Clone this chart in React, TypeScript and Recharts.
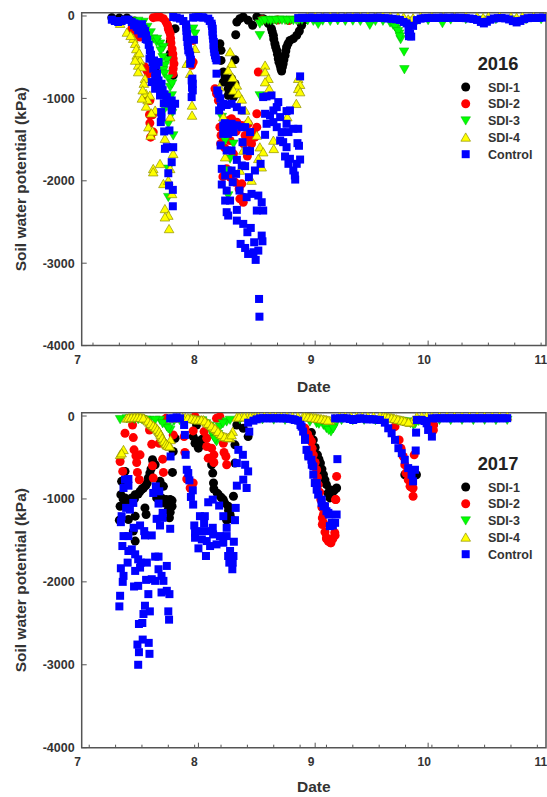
import React from "react";
import { ScatterChart, Scatter, XAxis, YAxis, ReferenceArea } from "recharts";

// x values are days after 1 July, y values are soil water potential in kPa
type Pt = [number, number];

const monthTicks = [0, 31, 62, 92, 123];
const monthLabels = ["7", "8", "9", "10", "11"];
const weekTicks2016 = [3, 10, 17, 24, 38, 45, 52, 59, 66, 73, 80, 87, 94, 101, 108, 115, 122];
const weekTicks2017 = [2, 9, 16, 23, 30, 37, 44, 51, 58, 65, 72, 79, 86, 93, 100, 107, 114, 121];
const kpaTicks = [0, -1000, -2000, -3000, -4000];

const sdi1_2016: Pt[] = [
  [8, -20], [10, -25], [12, -25], [14, -60], [24.8, -154], [23.5, -316], [23.5, -458], [24.3, -721], [19.5, -640], [18.3, -680],
  [36.7, -336], [37, -417], [37, -539], [37.6, -680], [38.1, -782], [39.4, -863], [38.9, -964], [40.7, -531], [40.9, -227], [41.2, -73],
  [42, -32], [42.9, -12], [44.2, -53], [45.4, -113], [46.5, -12], [47.3, -32], [48.2, -32], [48.9, -53], [49.6, -93], [50.4, -154],
  [50.9, -235], [51.3, -336], [51.8, -417], [52.2, -518], [52.7, -600], [53.1, -668], [53.5, -579], [54, -478], [54.4, -377], [55.3, -296],
  [56.2, -275], [57.1, -235], [57.8, -182], [58.4, -113], [59, -50], [38.1, -741], [37.6, -802], [38.5, -782], [39.8, -761], [40.7, -822],
  [38.9, -883], [39.4, -923], [40.3, -984], [50.6, -190], [51, -280], [51.5, -375], [52, -465], [52.4, -560], [52.9, -640], [53.3, -620],
  [53.7, -530], [54.2, -425], [54.8, -335],
];

const sdi2_2016: Pt[] = [
  [19, -20], [19.9, -12], [20.8, -12], [21.7, -32], [22.4, -73], [23, -154], [23.5, -215], [23.7, -328], [24.3, -518], [24.5, -579],
  [24.3, -640], [24.2, -700], [18.1, -1025], [17.7, -1004], [18, -1199], [18.8, -1199], [18.1, -1300], [19, -1409], [18.3, -1470], [16.8, -620],
  [17.3, -660], [15.5, -255], [14.6, -215], [13.3, -154], [17.7, -700], [29.6, -559], [29.2, -599], [29.6, -296], [35.4, -883], [35.8, -944],
  [36.3, -1025], [36.7, -1349], [36.9, -1551], [39, -1268], [39.8, -1247], [41.2, -1288], [39.4, -1511], [42.5, -1328], [44.2, -1308], [46.5, -1349],
  [46.5, -1187], [46.9, -680], [44.7, -1511], [45.1, -1551], [46, -1470], [43.4, -1450], [40.3, -1673], [38.5, -1855], [39.4, -1956], [40.7, -2017],
  [42.5, -2037], [42.9, -2199], [42, -2219], [42.9, -2260], [45.6, -1409], [48, -45], [52, -50], [55, -55], [22.8, -110], [23.2, -180],
  [23.6, -270], [24, -400], [24.2, -460], [37, -1450], [38, -1600], [41, -1400], [43, -1550], [44, -1700], [37.5, -1950], [41.8, -2100],
];

const sdi3_2016: Pt[] = [
  [16.4, -73], [17.4, -134], [19, -275], [19.9, -316], [20.8, -336], [21.7, -377], [22.6, -539], [22.1, -600], [21.7, -660], [23.5, -863],
  [23.9, -964], [22.1, -1126], [23, -1308], [24.3, -1450], [23, -1855], [23, -2199], [29.6, -154], [30.1, -215], [47.3, -235], [47.3, -964],
  [37.6, -1085], [37.2, -1227], [38.1, -1511], [40.3, -1551], [39.4, -1733], [38.5, -1875], [38.9, -2179], [47.3, -93], [48, -60], [49.5, -50],
  [51, -48], [52.5, -45], [54, -50], [55.5, -45], [57, -50], [58.5, -48], [60, -55], [61.5, -60], [62.8, -97], [64, -58],
  [66, -62], [68, -55], [70, -60], [72, -58], [74, -62], [76.5, -109], [78, -62], [80, -60], [81.9, -81], [82.7, -109],
  [83.6, -154], [84.3, -215], [84.7, -283], [85.6, -433], [85.7, -648], [87, -70], [89, -55], [92, -52], [95.8, -89], [98, -45],
  [102, -40], [106, -45], [110, -40], [114, -45], [118, -40], [122, -40], [15, -60], [16, -100], [18.3, -200], [20, -280],
  [21, -420], [21.5, -500], [22, -700], [23, -760], [24, -820], [22, -1000], [24, -1180], [48.7, -50], [50.2, -55], [51.7, -52],
  [53.2, -48], [54.7, -55], [56.2, -52], [57.7, -50], [83.2, -130], [84, -185], [84.5, -250],
];

const sdi4_2016: Pt[] = [
  [10.2, -93], [13.7, -275], [14.2, -336], [14.6, -478], [15.5, -539], [15, -600], [15.9, -620], [15, -680], [16.8, -761], [17.1, -944],
  [18.1, -964], [17.1, -1097], [19.5, -1146], [17.7, -1349], [18.3, -1450], [20.8, -1794], [19, -1855], [19, -1895], [24.3, -1673], [22.1, -1490],
  [23.5, -1227], [21.7, -2037], [23, -1997], [24, -2159], [22.1, -2341], [23, -2422], [22.1, -2442], [23.2, -2584], [23.5, -1855], [27.9, -579],
  [28.8, -518], [30.1, -397], [28.8, -700], [29.3, -1085], [29.3, -1207], [39.4, -437], [39.8, -579], [38.9, -660], [40.1, -749], [41.2, -842],
  [40.3, -903], [41.6, -944], [42.5, -1012], [43.4, -1146], [36.6, -863], [37.6, -1227], [44.2, -1268], [46.5, -1450], [47.3, -1592], [48.2, -1652],
  [46.9, -1733], [47.8, -1835], [45.1, -1997], [42, -1875], [42.9, -1632], [38.1, -1713], [48.7, -600], [48.7, -680], [49.6, -761], [48.7, -802],
  [49.8, -883], [50.9, -1511], [51, -1612], [54.6, -1227], [57, -1065], [57.5, -761], [58, -834], [57.5, -883], [58, -923], [60, -8],
  [62, -6], [64, -8], [66, -5], [68, -7], [70, -5], [72, -8], [74, -6], [76, -5], [78, -8], [80, -6],
  [82, -10], [84, -12], [85.5, -15], [86.7, -40], [87.2, -60], [88, -25], [90, -8], [93, -6], [96, -5], [99, -6],
  [102, -5], [105, -8], [106.6, -22], [108, -6], [111, -5], [114, -8], [115.5, -18], [117, -6], [120, -5], [123, -4],
  [12, -200], [13, -240], [14.5, -400], [15.3, -450], [16.5, -820], [17.5, -1020], [18.5, -1180], [18.8, -1400], [16, -1000], [16.2, -900],
  [14.2, -540],
];

const control2016: Pt[] = [
  [8, -45], [8.8, -61], [9.7, -73], [10.6, -61], [11.5, -45], [12.4, -45], [13.3, -73], [13.9, -113], [14.6, -134], [15, -174],
  [15.5, -134], [16.4, -154], [15.9, -215], [17.1, -235], [17.4, -288], [18.1, -417], [18, -518], [18.8, -559], [20.4, -559], [19, -640],
  [19.5, -741], [18.6, -802], [20.4, -782], [19.5, -883], [21.2, -822], [20.8, -964], [22.6, -984], [23.9, -1025], [24.8, -1065], [23.9, -1146],
  [21.1, -1166], [21.2, -1227], [21, -1288], [21.9, -1401], [23.3, -1389], [22.6, -1592], [24.3, -1592], [22.1, -1612], [23.9, -1774], [23, -1908],
  [23.2, -2057], [24.2, -2110], [24.2, -2309],
  [14, -90], [15.2, -110], [16, -100], [16.8, -180], [17, -280], [17.8, -350], [18.4, -470], [19.2, -540], [19.8, -600], [20, -700],
  [20.5, -870], [21.5, -900], [22, -950], [23, -1060], [24, -1090], [21.8, -1060],
  [24.3, -12], [25.2, -20], [26.1, -32], [27, -61], [27.7, -101], [27.9, -255], [28.1, -316], [28.3, -417], [28.8, -478], [29.8, -288],
  [28.8, -579], [29.2, -782], [29.5, -822], [29.5, -903], [29.2, -984], [27.8, -140], [27.8, -180], [28, -220], [28.2, -360], [28.6, -440],
  [29, -530], [29.3, -870], [29.4, -760],
  [29.6, -20], [31, -12], [32.3, -20], [33.6, -32], [34.5, -93], [34.8, -154], [34.8, -235], [35.1, -316], [35.1, -397], [35.4, -478],
  [35.8, -539], [35.8, -700], [36, -903], [36.3, -944], [36.5, -1146], [37.6, -1328], [37.8, -1369], [37.6, -1430], [40.3, -1328], [40.3, -1409],
  [38.5, -1389], [39.8, -1308], [41.2, -1328], [42.5, -1349], [43.4, -1349], [44.7, -1409], [37.6, -1065], [39.8, -1065], [41.2, -1106], [42.5, -1146],
  [36.9, -1571], [38.5, -1632], [39.8, -1632], [42.7, -1531], [43.8, -1632], [44.7, -1640], [41.2, -1746], [42.5, -1814], [43.4, -1822], [37.2, -1855],
  [38.1, -1936], [39.8, -1875], [41, -1916], [40.1, -2017], [37.2, -2045], [38.5, -2118], [38.1, -2240], [39.4, -2240], [41.9, -2118], [41.2, -2353],
  [38.5, -2381], [38.9, -2422], [41.2, -2483], [42.9, -2523], [44.9, -2572], [44, -2624], [42.2, -2766], [43.4, -2815], [44.2, -2888], [45.6, -2867],
  [46.9, -2847], [46.2, -2960], [47.8, -2665], [48, -2734], [45.8, -2746], [43.8, -2199], [45.1, -2159], [46.9, -2179], [47.8, -2260], [46.5, -2361],
  [48.2, -2361], [47.5, -1794], [46, -1875], [44.4, -1956], [47.1, -3434], [47.2, -3649], [34.6, -120], [34.7, -190], [34.9, -275], [35, -355],
  [35.2, -440], [35.6, -510], [32, -15], [34, -60], [30.3, -15], [38, -1300], [39, -1340], [40, -1360], [38.8, -1430], [37, -1100],
  [36.8, -1000], [38.5, -1080],
  [58, -733], [49.1, -976], [50.4, -964], [48.2, -984], [52.2, -1045], [51.8, -1106], [50.9, -1146], [48.7, -1187], [50, -1207], [55.3, -1146],
  [54.4, -1154], [52.7, -1227], [50.9, -1288], [49.1, -1308], [51.8, -1349], [54.4, -1308], [56.2, -1369], [57.5, -1369], [53.1, -1409], [54.9, -1409],
  [48.7, -1442], [52.7, -1511], [53.5, -1531], [54.4, -1592], [57.3, -1543], [57.7, -1575], [54, -1705], [55.3, -1733], [54.9, -1794], [58, -1742],
  [57.1, -1794], [56.2, -1875], [56.6, -1936], [56.7, -1985],
  [57.5, -25], [58.5, -22], [59.5, -24], [60.5, -20], [61.5, -22], [62.5, -26], [63.5, -22], [64.5, -20], [65.5, -24], [66.5, -22],
  [67.5, -20], [68.5, -24], [69.5, -22], [70.5, -20], [71.5, -24], [72.5, -22], [73.5, -20], [74.5, -24], [75.5, -22], [76.5, -26],
  [77.5, -22], [78.5, -20], [79.5, -24], [80.5, -26], [81.5, -30], [82.5, -34], [83.5, -40], [84.5, -48], [85.5, -72], [86.3, -90],
  [86.8, -170], [87.2, -215], [87.5, -250], [86.9, -245], [88, -120], [89, -50], [90, -32], [91, -26], [92, -24], [93, -22],
  [94, -24], [95, -22], [96, -20], [97, -24], [98, -22], [99, -20], [100, -24], [101, -22], [102, -26], [103, -30],
  [104, -36], [105, -48], [106, -72], [106.8, -90], [107.6, -70], [108.5, -45], [109.5, -30], [110.5, -26], [111.5, -24], [112.5, -30],
  [113.5, -42], [114.5, -62], [115.5, -78], [116.5, -60], [117.5, -38], [118.5, -26], [119.5, -22], [120.5, -24], [121.5, -22], [122.5, -20],
];

const sdi1_2017: Pt[] = [
  [10.2, -1088], [10, -1256], [11.5, -668], [10.6, -788], [10.4, -948], [11.5, -988], [12.4, -1028], [13.3, -988], [14.2, -948], [15.5, -908],
  [16.4, -868], [17.4, -808], [14.2, -1208], [12.4, -1248], [13.7, -1388], [14.2, -1508], [16.8, -1108], [17.1, -1188], [18.8, -528], [19.5, -588],
  [18.1, -688], [17.7, -748], [20.8, -788], [21.7, -848], [19.9, -988], [21.2, -988], [22.4, -1008], [23.5, -1008], [24, -1088], [23, -1128],
  [23.3, -1228], [24.1, -680], [24.3, -428], [24.8, -268], [29.6, -248], [30.1, -328], [31, -388], [34.5, -588], [34.8, -688], [35, -808],
  [35.1, -880], [36.3, -948], [37.6, -1008], [38.9, -1088], [39.4, -1188], [38.5, -1256], [40.3, -968], [40.7, -568], [40.7, -348], [41.2, -108],
  [42.9, -148], [44.2, -248], [30.5, -108], [61.5, -288], [62.6, -468], [63.4, -568], [64.2, -708], [65, -828], [65.9, -988], [66.8, -908],
  [67.7, -868], [65.9, -888], [88.9, -708], [85.8, -708], [93.4, -108], [11, -1000], [12, -1060], [13, -1030], [14, -1000], [15, -940],
  [16, -880], [17, -840], [19, -560], [22, -1050], [23, -1060], [24, -1020], [23.5, -1160], [18.4, -640], [31.5, -330], [32, -280],
  [30.8, -300], [36, -930], [37, -980], [38, -1050], [39, -1140], [39.8, -1240], [61, -200], [62, -380], [63, -520], [63.8, -640],
  [64.6, -770], [65.4, -930], [66.4, -950], [67.2, -890],
];

const sdi2_2017: Pt[] = [
  [10.2, -548], [10.9, -668], [11.5, -208], [13.5, -108], [13.7, -260], [13.9, -408], [15.5, -468], [14.4, -480], [14.6, -560], [14.8, -680],
  [15.3, -768], [18.6, -340], [18, -168], [18.8, -600], [19, -748], [21.5, -520], [21.7, -680], [20.6, -328], [22.4, -28], [24.3, -228],
  [27.4, -440], [27.2, -248], [27.9, -760], [29.6, -808], [28.8, -868], [29.6, -180], [32.5, -188], [33.2, -268], [33.6, -508], [35.1, -468],
  [35.1, -560], [37.6, -328], [37.8, -440], [38.3, -488], [38.5, -588], [35.8, -28], [36.7, -8], [33.2, -368], [34.5, -388], [30.1, -8],
  [59.3, -148], [61, -308], [61.5, -468], [62.4, -648], [62.8, -828], [63.5, -1008], [64.2, -1288], [65, -1468], [66.1, -1528], [67.3, -1440],
  [67.4, -1008], [63.9, -1308], [65, -1480], [66.2, -1528], [67.2, -1408], [67.5, -1008], [67.7, -728], [64.2, -1188], [83.2, -128], [84.3, -288],
  [85.4, -488], [86.1, -688], [87.2, -848], [88, -868], [88, -968], [88.3, -468], [93.4, -108], [93.4, -168], [60, -220], [60.5, -270],
  [61.2, -390], [62, -560], [62.6, -740], [63.2, -920], [63.8, -1100], [63.9, -1230], [64.6, -1400], [65.5, -1510], [66.7, -1480], [84.8, -390],
  [85.8, -590], [86.7, -770], [87.6, -860],
];

const sdi3_2017: Pt[] = [
  [10.2, -40], [12, -30], [14, -35], [16, -40], [18, -50], [20.8, -48], [22.6, -128], [23.5, -168], [24.5, -60], [26, -50],
  [28, -45], [30, -50], [32, -55], [34, -120], [35, -248], [35.8, -308], [36.7, -128], [38.5, -68], [39.4, -48], [42, -40],
  [45, -45], [48, -42], [51, -45], [54, -48], [57, -50], [60.6, -68], [62.4, -88], [64.2, -108], [65, -148], [66.2, -188],
  [67.2, -110], [69, -50], [72, -52], [75, -48], [78, -52], [81, -55], [84, -58], [86.4, -68], [88.1, -108], [89.5, -60],
  [92, -50], [95, -48], [98, -50], [101, -48], [104, -50], [107, -48], [110, -50], [113, -48], [12.8, -32], [15, -38],
  [17, -45], [19.5, -48], [21.5, -90], [23, -150], [33, -90], [34.5, -190], [35.4, -280], [36.2, -220], [37.5, -90], [63, -95],
  [65.6, -170], [66.8, -150], [85.2, -62], [87.3, -88], [88.6, -90],
];

const sdi4_2017: Pt[] = [
  [10.2, -468], [11.1, -408], [10.6, -448], [11.9, -28], [12.8, -22], [13.6, -20], [14.4, -18], [15.2, -18], [16, -22], [16.7, -32],
  [17.3, -48], [18, -78], [18.6, -108], [19.3, -128], [19.9, -148], [20.4, -178], [20.8, -208], [21.2, -248], [21.7, -288], [22.2, -320],
  [22.6, -348], [23.1, -360], [23.5, -368], [23.6, -288], [24.5, -30], [26, -20], [27.5, -20], [28.8, -28], [29.7, -38], [30.5, -48],
  [31.4, -50], [32.3, -48], [33.2, -78], [34.1, -108], [35, -138], [35.8, -168], [36.7, -208], [37.6, -248], [38.5, -258], [39.4, -268],
  [40.1, -188], [41.2, -16], [42.5, -14], [44, -12], [45.5, -10], [47, -8], [48.5, -6], [50, -6], [51.5, -5], [53, -6],
  [54.5, -5], [56, -6], [57.4, -6], [58.8, -8], [59.7, -12], [60.6, -16], [61.5, -22], [62.4, -28], [63.3, -34], [64.2, -40],
  [65, -48], [65.9, -56], [67, -30], [68.5, -10], [70, -6], [71.5, -5], [73, -5], [74.5, -4], [76, -5], [77.5, -4],
  [79.2, 0], [80.1, -8], [81, -16], [81.9, -22], [82.7, -28], [83.6, -38], [84.5, -48], [85.4, -58], [86.3, -68], [87.2, -80],
  [88, -50], [89, -8], [90.3, -4], [91.6, 0], [93, -4], [95, -5], [97, -4], [99, -5], [101, -4], [103, -5],
  [105, -4], [107, -5], [109, -4], [111, -5], [113, -4],
  [12.4, -25], [13.2, -21], [14, -19], [14.8, -18], [15.6, -20], [16.4, -27], [17.6, -62], [18.3, -92], [19, -118], [19.6, -138],
  [20.1, -162], [20.6, -192], [21, -228], [21.4, -268], [21.9, -305], [22.4, -335], [22.8, -355], [23.3, -364], [25.2, -22], [26.8, -20],
  [28.2, -24], [29.2, -33], [30.1, -43], [30.9, -50], [31.8, -49], [32.7, -62], [33.6, -92], [34.5, -122], [35.4, -152], [36.2, -188],
  [37.1, -228], [38, -252], [39, -262], [39.8, -230], [41.8, -15], [43.2, -13], [44.8, -11], [46.2, -9], [59.2, -10], [60.1, -14],
  [61, -19], [62, -25], [62.8, -31], [63.7, -37], [64.6, -44], [65.4, -52], [80.6, -12], [81.4, -19], [82.3, -25], [83.1, -33],
  [84, -43], [85, -53], [85.8, -63], [86.8, -74],
];

const control2017: Pt[] = [
  [10.2, -2168], [10, -2296], [10.4, -1836], [11.1, -1928], [10.9, -2000], [10.8, -1568], [12.4, -1628], [12.2, -1768], [14.2, -1668], [14.2, -1868],
  [15.5, -1828], [17.3, -1768], [13.9, -2056], [15, -2048], [17.1, -1976], [18.6, -1968], [19.5, -1988], [17.7, -2148], [16.8, -2288], [16.4, -2388],
  [18.1, -2356], [15.2, -2508], [16.1, -2496], [16.2, -2696], [14.8, -2756], [15.2, -2848], [17.8, -2736], [18, -2868], [15, -3000], [11.1, -1448],
  [12.4, -1448], [15.5, -1320], [16.6, -1388], [16.8, -1440], [18.6, -1440], [20.8, -1320], [23.5, -1360], [10.6, -1208], [10.4, -1280], [13.8, -1348],
  [12.4, -760], [11.5, -768], [12.4, -840], [11.1, -868], [13.7, -1048], [11.8, -1108], [12.8, -1128], [19.7, -848], [20.6, -908], [19, -928],
  [20.4, -1056], [21.5, -1168], [21.5, -1228], [19.9, -1240], [19.5, -1696], [20.4, -1696], [20.4, -1848], [22.6, -1808], [21.2, -1928], [21.7, -1988],
  [22.6, -2108], [21.2, -2128], [23.3, -2148], [23, -2356], [23.2, -2456], [15.7, -1768], [15, -1728], [13.3, -1608], [23.6, -488],
  [23.5, -28], [24.3, -28], [25.2, -16], [26.1, -28], [27.2, -108], [27.4, -228], [27.6, -468], [27.9, -648], [28.3, -688], [28.6, -776],
  [29.5, -896], [29, -976], [29.6, -1068], [29.9, -1320], [30.1, -1408], [31.4, -1208], [32.7, -1208], [32.5, -1296], [31.2, -1388], [34.8, -1348],
  [33.2, -1388], [30.1, -1468], [31.9, -1488], [31, -1596], [33.2, -1508], [34.9, -1428], [36.7, -1448], [38.5, -1448], [34.1, -1568], [35.8, -1548],
  [37.6, -1528], [33, -1688], [40.4, -1516], [38.5, -1348], [39.4, -1628], [40.3, -1688], [38.9, -1688], [40.1, -1768], [39.2, -1768], [40, -1848],
  [33.6, -1040], [34.8, -1008], [36.5, -1080], [37.6, -1208], [40.7, -1256], [40.9, -1108],
  [41.2, -840], [43.8, -868], [42.9, -768], [44.2, -668], [43.4, -588], [41.2, -568], [41.6, -408], [42.8, -468], [44.5, -188], [44.2, -80],
  [45.6, -56], [46.5, -40], [47.3, -28], [48.2, -26], [49.1, -28], [50, -26], [50.9, -28], [51.8, -26], [52.7, -28], [53.5, -28],
  [54.4, -28], [55.3, -34], [56.2, -40], [56.6, -48], [57.5, -56], [58.1, -108], [58.4, -128], [58.8, -188], [59.3, -268], [59.3, -288],
  [59.7, -408], [60.2, -468], [60.2, -488], [61, -528], [61.1, -588], [61.5, -608], [61.5, -708], [61.9, -808], [62.4, -808], [62.4, -888],
  [62.8, -948], [63.7, -1008], [63.7, -1048], [64.2, -1088], [64.6, -1088], [65, -1148], [65.5, -1168], [65.7, -1188], [65.9, -1328], [66.4, -1288],
  [66.7, -1320], [67.3, -1288], [67.7, -1188], [67.9, -520],
  [67.3, -28], [68.6, -28], [69.5, -26], [70.4, -28], [71.2, -36], [72.1, -48], [73, -36], [73.9, -28], [74.8, -32], [75.7, -40],
  [76.5, -38], [77.4, -40], [78.3, -44], [79.2, -48], [80.5, -80], [81.4, -148], [82.3, -208], [83.2, -288], [84.1, -388], [85, -448],
  [85.8, -528], [86.7, -628], [87.6, -708], [88.5, -648], [88, -788], [88.7, -416], [88.8, -200], [89, -48], [89.6, -45], [90.3, -48],
  [91, -60], [91.6, -88], [92, -168], [93, -248], [93, -28], [94, -28], [95, -26], [96, -28], [97, -26], [98, -28],
  [99, -26], [100, -28], [101, -26], [102, -28], [103, -26], [104, -28], [105, -26], [106, -28], [107, -26], [108, -28],
  [109, -26], [110, -28], [111, -26], [112, -28], [113, -26],
];

const palette = {
  black: "#000000",
  red: "#ff0000",
  green: "#00ff00",
  yellow: "#ffff00",
  blue: "#0000ff",
  frame: "#555555",
  text: "#333333",
};

const font = "'Liberation Sans', Arial, sans-serif";

const toRows = (pts: Pt[]) => pts.map(([day, kpa]) => ({ day, kpa }));

const Dot = ({ cx, cy, fill }: any) => <circle cx={cx} cy={cy} r={4.5} fill={fill} />;
const Square = ({ cx, cy }: any) => (
  <rect x={cx - 4} y={cy - 4} width={8} height={8} fill={palette.blue} />
);
const TriDown = ({ cx, cy }: any) => (
  <path d={`M${cx - 4.8} ${cy - 3.8}L${cx + 4.8} ${cy - 3.8}L${cx} ${cy + 4.5}Z`} fill={palette.green} stroke="#00b400" strokeWidth={0.5} />
);
const TriUp = ({ cx, cy }: any) => (
  <path d={`M${cx - 4.8} ${cy + 3.8}L${cx + 4.8} ${cy + 3.8}L${cx} ${cy - 4.5}Z`} fill={palette.yellow} stroke="#8f8f00" strokeWidth={0.7} />
);

const Black = (p: any) => <Dot {...p} fill={palette.black} />;
const Red = (p: any) => <Dot {...p} fill={palette.red} />;

const names = ["SDI-1", "SDI-2", "SDI-3", "SDI-4", "Control"];
const shapes = [Black, Red, TriDown, TriUp, Square];

const XTick = ({ x, y, payload }: any) => {
  const i = monthTicks.indexOf(payload.value);
  if (i < 0) {
    return <line x1={x} x2={x} y1={y} y2={y - 3} stroke={palette.frame} />;
  }
  return (
    <g>
      {i > 0 && i < 4 && <line x1={x} x2={x} y1={y} y2={y - 5} stroke={palette.frame} />}
      <text x={x - 4} y={y + 18} textAnchor="middle" fontFamily={font} fontWeight={700} fontSize={12} fill={palette.text}>
        {monthLabels[i]}
      </text>
    </g>
  );
};

const YTick = ({ x, y, payload }: any) => (
  <g>
    <line x1={x} x2={x + 5} y1={y} y2={y} stroke={palette.frame} />
    <text x={x - 7} y={y + 4.5} textAnchor="end" fontFamily={font} fontWeight={700} fontSize={12.5} fill={palette.text}>
      {payload.value}
    </text>
  </g>
);

type PanelProps = { year: string; top: number; plotBottom: number; weeks: number[]; series: Pt[][] };

function Panel({ year, top, plotBottom, weeks, series }: PanelProps) {
  return (
    <div style={{ position: "absolute", left: 0, top, width: 547, height: 397 }}>
      <ScatterChart width={547} height={397} margin={{ top: 12.7, right: 1, bottom: 0, left: 0 }}>
        <XAxis
          type="number"
          dataKey="day"
          domain={[0, 123.3]}
          ticks={[...monthTicks, ...weeks].sort((a, b) => a - b)}
          interval={0}
          height={397 - plotBottom}
          tick={<XTick />}
          tickLine={false}
          tickSize={0}
          tickMargin={0}
          axisLine={false}
          allowDataOverflow
          label={{ value: "Date", position: "insideBottom", offset: 5, fontFamily: font, fontWeight: 700, fontSize: 15.5, fill: palette.text }}
        />
        <YAxis
          type="number"
          dataKey="kpa"
          domain={[-4000, 40]}
          ticks={kpaTicks}
          interval={0}
          width={81.7}
          tick={<YTick />}
          tickLine={false}
          tickSize={0}
          tickMargin={0}
          axisLine={false}
          allowDataOverflow
          label={{ value: "Soil water potential (kPa)", angle: -90, position: "insideLeft", offset: 21, fontFamily: font, fontWeight: 700, fontSize: 15.5, fill: palette.text, style: { textAnchor: "middle" } }}
        />
        {series.map((pts, i) => (
          <Scatter key={names[i]} name={names[i]} data={toRows(pts)} shape={shapes[i]} isAnimationActive={false} />
        ))}
        <ReferenceArea x1={0} x2={123.3} y1={-4000} y2={40} fill="none" stroke={palette.frame} strokeWidth={1.5} ifOverflow="visible" />
      </ScatterChart>
      <svg width={547} height={397} style={{ position: "absolute", left: 0, top: 0, pointerEvents: "none" }}>
        <text x={498} y={69.5} textAnchor="middle" fontFamily={font} fontWeight={700} fontSize={18.3} fill="#222222">
          {year}
        </text>
        {names.map((name, i) => {
          const Mark = shapes[i];
          const cy = 87 + i * 16.8;
          return (
            <g key={name}>
              <Mark cx={465.7} cy={cy} />
              <text x={488} y={cy + 4.5} fontFamily={font} fontWeight={700} fontSize={12.5} fill={palette.text}>
                {name}
              </text>
            </g>
          );
        })}
      </svg>
    </div>
  );
}

export default function App() {
  return (
    <div style={{ position: "absolute", left: 0, top: 0, width: 547, height: 797, background: "#ffffff" }}>
      <Panel year="2016" top={0} plotBottom={345.6} weeks={weekTicks2016} series={[sdi1_2016, sdi2_2016, sdi3_2016, sdi4_2016, control2016]} />
      <Panel year="2017" top={400} plotBottom={347.7} weeks={weekTicks2017} series={[sdi1_2017, sdi2_2017, sdi3_2017, sdi4_2017, control2017]} />
    </div>
  );
}
